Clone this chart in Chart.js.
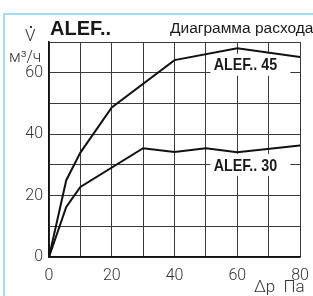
<!DOCTYPE html>
<html>
<head>
<meta charset="utf-8">
<script src="https://cdn.jsdelivr.net/npm/chart.js@4.4.1/dist/chart.umd.min.js"></script>
<style>
  html, body { margin: 0; padding: 0; background: #fff; overflow: hidden; }
  #wrap { position: relative; width: 313px; height: 296px; }
  #frame {
    position: absolute; left: 3px; top: 13px; width: 330px; height: 300px;
    border-top: 2px solid #9fdcf5; border-left: 2px solid #9fdcf5;
  }
  canvas { position: absolute; left: 0; top: 0; }
</style>
</head>
<body>
<div id="wrap">
  <div id="frame"></div>
  <canvas id="chart" width="313" height="296"></canvas>
</div>
<script>
// pressure drop, Pa
const alef45X = [0, 5.5, 10, 20, 40, 60, 80];
const alef45Y = [0, 25, 34, 48.7, 64.1, 68, 65.1];
const alef30X = [0, 5.5, 10, 30, 40, 50, 60, 80];
const alef30Y = [0, 16.3, 22.8, 35.4, 34.2, 35.4, 34.1, 36.3];

const xTickLabels = [0, 20, 40, 60, 80];
const yTickLabels = [0, 20, 40, 60];

// curve names, placed in data units
const curveLabels = [
  { text: 'ALEF.. 45', x: 62.6, y: 62.6 },
  { text: 'ALEF.. 30', x: 62.6, y: 30 }
];

const tickFont = { family: 'Roboto', size: 16, weight: '300' };

function toPoints(xs, ys) {
  return xs.map((x, i) => ({ x: x, y: ys[i] }));
}

const curveLabelPlugin = {
  id: 'curveLabels',
  beforeDatasetsDraw(chart) {
    const ctx = chart.ctx;
    const xs = chart.scales.x, ys = chart.scales.y;
    ctx.save();
    curveLabels.forEach(l => {
      const px = xs.getPixelForValue(l.x);
      const py = ys.getPixelForValue(l.y);
      ctx.fillStyle = '#fff';
      ctx.fillRect(px - 35, py - 11, 80, 22);
      ctx.save();
      ctx.translate(px, py + 1);
      ctx.scale(0.84, 1);
      ctx.fillStyle = '#1a1a1a';
      ctx.font = 'bold 17px "Liberation Sans", Arial, sans-serif';
      ctx.textAlign = 'center';
      ctx.textBaseline = 'middle';
      ctx.fillText(l.text, 0, 0);
      ctx.restore();
    });
    ctx.restore();
  }
};

const textPlugin = {
  id: 'headerTexts',
  afterDraw(chart) {
    const ctx = chart.ctx;
    ctx.save();
    ctx.fillStyle = '#1a1a1a';
    ctx.textBaseline = 'alphabetic';
    ctx.textAlign = 'left';
    ctx.font = 'bold 20px "Liberation Sans", Arial, sans-serif';
    ctx.fillText('ALEF..', 50, 35);
    ctx.font = '15.5px "Liberation Sans", Arial, sans-serif';
    ctx.fillText('Диаграмма расхода', 170, 33);
    ctx.fillStyle = '#333';
    ctx.font = '300 17px Roboto, sans-serif';
    ctx.fillText('V', 25, 41);
    ctx.fillRect(30, 26, 2, 2);
    ctx.font = '300 16px Roboto, sans-serif';
    ctx.fillText('м³/ч', 9, 62);
    ctx.font = '300 17px Roboto, sans-serif';
    ctx.fillText('Δp  Па', 254, 292);
    ctx.restore();
  }
};

new Chart(document.getElementById('chart'), {
  type: 'line',
  data: {
    datasets: [
      {
        label: 'ALEF.. 45',
        data: toPoints(alef45X, alef45Y),
        borderColor: '#111',
        borderWidth: 2,
        pointRadius: 0,
        tension: 0,
        fill: false
      },
      {
        label: 'ALEF.. 30',
        data: toPoints(alef30X, alef30Y),
        borderColor: '#111',
        borderWidth: 2,
        pointRadius: 0,
        tension: 0,
        fill: false
      }
    ]
  },
  options: {
    responsive: false,
    devicePixelRatio: 1,
    animation: false,
    layout: { padding: { top: 42, right: 13, left: 0, bottom: 0 } },
    plugins: {
      legend: { display: false },
      tooltip: { enabled: false }
    },
    scales: {
      x: {
        type: 'linear',
        min: 0,
        max: 80,
        afterFit: s => { s.height = 39; s.paddingLeft = 0; s.paddingRight = 0; },
        grid: { color: '#3a3a3a', lineWidth: 1, drawTicks: false },
        border: { color: '#111', width: 1.5 },
        ticks: {
          stepSize: 10,
          autoSkip: false,
          maxRotation: 0,
          padding: 9,
          color: '#333',
          font: tickFont,
          callback: v => xTickLabels.includes(v) ? String(v) : ''
        }
      },
      y: {
        min: 0,
        max: 70,
        afterFit: s => { s.width = 49; s.paddingTop = 0; s.paddingBottom = 0; },
        grid: { color: '#3a3a3a', lineWidth: 1, drawTicks: false },
        border: { color: '#111', width: 1.5 },
        ticks: {
          stepSize: 10,
          autoSkip: false,
          padding: 6,
          color: '#333',
          font: tickFont,
          callback: v => yTickLabels.includes(v) ? String(v) : ''
        }
      }
    }
  },
  plugins: [curveLabelPlugin, textPlugin]
});
</script>
</body>
</html>
